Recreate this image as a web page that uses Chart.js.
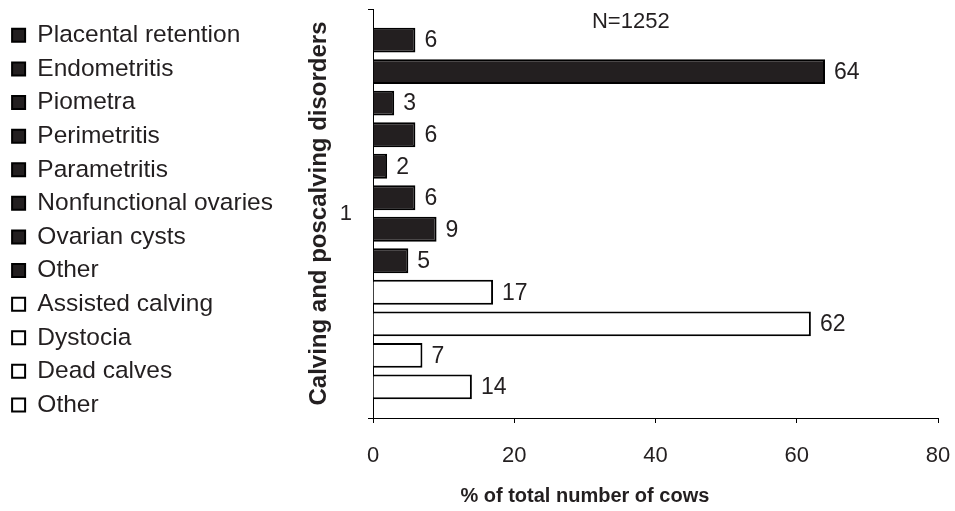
<!DOCTYPE html>
<html>
<head>
<meta charset="utf-8">
<script src="https://cdn.jsdelivr.net/npm/chart.js@4/dist/chart.umd.min.js"></script>
<style>
  html, body { margin: 0; padding: 0; background: #ffffff; }
  #wrap { width: 955px; height: 511px; }
</style>
</head>
<body>
<div id="wrap"><canvas id="c" width="955" height="511"></canvas></div>
<script>
// Single group on the category axis
const categories = ['1'];

// Postpartum disorders (filled bars)
const postpartumNames = ['Placental retention', 'Endometritis', 'Piometra', 'Perimetritis',
  'Parametritis', 'Nonfunctional ovaries', 'Ovarian cysts', 'Other'];
const postpartumValues = [6, 64, 3, 6, 2, 6, 9, 5];

// Calving disorders (open bars)
const calvingNames = ['Assisted calving', 'Dystocia', 'Dead calves', 'Other'];
const calvingValues = [17, 62, 7, 14];

// Value axis ticks, axis titles and sample size note
const xTicks = [0, 20, 40, 60, 80];
const xTitle = '% of total number of cows';
const yTitle = 'Calving and poscalving disorders';
const sampleNote = 'N=1252';

const ink = '#231f20';
const FONT = '"Liberation Sans", Arial, Helvetica, sans-serif';
Chart.defaults.font.family = FONT;
Chart.defaults.color = ink;

const datasets = [];
postpartumNames.forEach((name, i) => datasets.push({
  label: name, data: [postpartumValues[i]],
  backgroundColor: ink, borderColor: '#000000', borderWidth: 2
}));
calvingNames.forEach((name, i) => datasets.push({
  label: name, data: [calvingValues[i]],
  backgroundColor: '#ffffff', borderColor: '#000000', borderWidth: 2
}));

// Writes each bar's value at its end, the sample size note and the value-axis title
const valueLabels = {
  id: 'valueLabels',
  afterDatasetsDraw(chart) {
    const ctx = chart.ctx;
    const xs = chart.scales.x;
    ctx.save();
    ctx.font = '23px ' + FONT;
    ctx.fillStyle = ink;
    ctx.textBaseline = 'middle';
    ctx.textAlign = 'left';
    chart.data.datasets.forEach((ds, i) => {
      chart.getDatasetMeta(i).data.forEach((bar, j) => {
        ctx.fillText(String(ds.data[j]), bar.x + 9, bar.y + 1);
      });
    });
    ctx.font = '22px ' + FONT;
    ctx.textAlign = 'center';
    ctx.fillText(sampleNote, xs.getPixelForValue(36.5), chart.chartArea.top + 13);
    ctx.font = 'bold 20px ' + FONT;
    ctx.fillText(xTitle, xs.left + 0.375 * xs.width, xs.bottom - 15);
    ctx.restore();
  }
};

new Chart(document.getElementById('c'), {
  type: 'bar',
  data: { labels: categories, datasets: datasets },
  plugins: [valueLabels],
  options: {
    indexAxis: 'y',
    responsive: false,
    animation: false,
    events: [],
    layout: { padding: { top: 9, left: 3, right: 17, bottom: 0 } },
    datasets: { bar: { categoryPercentage: 0.925, barPercentage: 0.79 } },
    plugins: {
      tooltip: { enabled: false },
      legend: {
        position: 'left',
        align: 'start',
        maxWidth: 320,
        title: { display: true, text: '', padding: 0, font: { size: 5, lineHeight: 1 } },
        labels: {
          boxWidth: 13, boxHeight: 13, padding: 9.1,
          color: ink, font: { size: 24.5 }
        }
      }
    },
    scales: {
      x: {
        min: 0, max: 80,
        afterBuildTicks(scale) { scale.ticks = xTicks.map(v => ({ value: v })); },
        afterFit(scale) {
          scale.height = 93;
          scale.paddingLeft = 0;
          scale.paddingRight = 0;
        },
        border: { display: true, color: '#000000', width: 1 },
        grid: { drawOnChartArea: false, drawTicks: true, tickLength: 5, color: '#000000' },
        ticks: { padding: 20, color: ink, font: { size: 22 } }
      },
      y: {
        afterFit(scale) {
          const lw = scale.chart.legend ? scale.chart.legend.width : 0;
          scale.width = 373 - 3 - lw;
          scale.paddingTop = 0;
          scale.paddingBottom = 0;
        },
        border: { display: true, color: '#000000', width: 1 },
        grid: { drawOnChartArea: false, drawTicks: true, tickLength: 5, color: '#000000', offset: true },
        ticks: { padding: 16, color: ink, font: { size: 22 } },
        title: {
          display: true, text: yTitle, color: ink,
          font: { size: 24, weight: 'bold' }, padding: { top: 22, bottom: 0 }
        }
      }
    }
  }
});
</script>
</body>
</html>
